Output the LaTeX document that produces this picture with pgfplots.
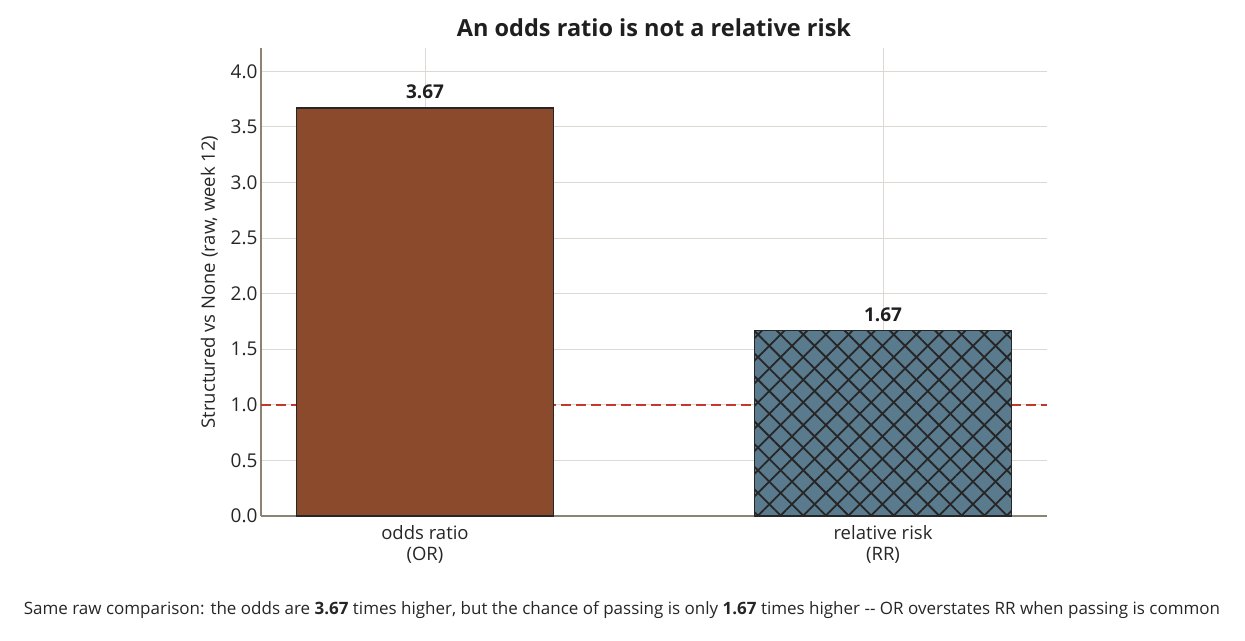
\documentclass[border=0pt]{standalone}
\usepackage{pgfplots}
\pgfplotsset{compat=1.18}
\usepackage{fontspec}
\setmainfont{Open Sans}
\usetikzlibrary{patterns.meta}

\definecolor{orbar}{HTML}{8B4A2C}
\definecolor{rrbar}{HTML}{5A7A8E}
\definecolor{spine}{HTML}{8C8473}
\definecolor{gridc}{HTML}{DDD8D2}
\definecolor{refred}{HTML}{C0392B}
\definecolor{edge}{HTML}{262626}

\begin{document}
\begin{tikzpicture}[x=1pt,y=1pt]
\useasboundingbox (0,0) rectangle (1245,640);
\begin{axis}[
    at={(261pt,124pt)}, anchor=south west,
    scale only axis, width=786pt, height=468pt,
    xmin=-0.358, xmax=1.358, ymin=0, ymax=4.21,
    axis x line*=bottom, axis y line*=left,
    axis line style={spine, line width=1.2pt},
    xtick={0,1},
    xticklabels={{odds ratio\\(OR)},{relative risk\\(RR)}},
    xticklabel style={align=center, font=\fontsize{18.5}{21}\selectfont, text=black!85, yshift=-6pt},
    ytick={0,0.5,...,4.0},
    yticklabel style={/pgf/number format/fixed, /pgf/number format/fixed zerofill,
        /pgf/number format/precision=1, font=\fontsize{19}{21}\selectfont, text=black!85},
    /pgf/number format/assume math mode=true,
    major tick length=0pt,
    grid=major, major grid style={gridc, line width=0.9pt},
    ylabel={Structured vs None (raw, week 12)},
    ylabel style={font=\fontsize{18.5}{21}\selectfont, text=black!85, yshift=6pt},
    ybar, bar width=0.56, bar shift=0pt,
    nodes near coords,
    nodes near coords style={font=\bfseries\fontsize{19}{21}\selectfont, text=black!88,
        /pgf/number format/fixed, /pgf/number format/precision=2, yshift=5pt},
    clip=false,
]
\draw[refred, line width=2.4pt, dash pattern=on 10pt off 5pt]
    (axis cs:-0.358,1) -- (axis cs:1.358,1);
\addplot[fill=orbar, draw=edge, line width=1.4pt] coordinates {(0,3.67)};
\addplot[fill=rrbar, draw=edge, line width=1.4pt,
    postaction={pattern={Lines[angle=45,distance=16pt,line width=1.8pt]}, pattern color=edge},
    postaction={pattern={Lines[angle=-45,distance=16pt,line width=1.8pt]}, pattern color=edge}]
    coordinates {(1,1.67)};
\end{axis}
\node[font=\bfseries\fontsize{23.5}{27}\selectfont, text=black!88] at (654,612) {An odds ratio is not a relative risk};
\node[font=\fontsize{17}{20}\selectfont, text=black!85] at (622,30) {Same raw comparison: the odds are \textbf{3.67} times higher, but the chance of passing is only \textbf{1.67} times higher -{}- OR overstates RR when passing is common};
\end{tikzpicture}
\end{document}
